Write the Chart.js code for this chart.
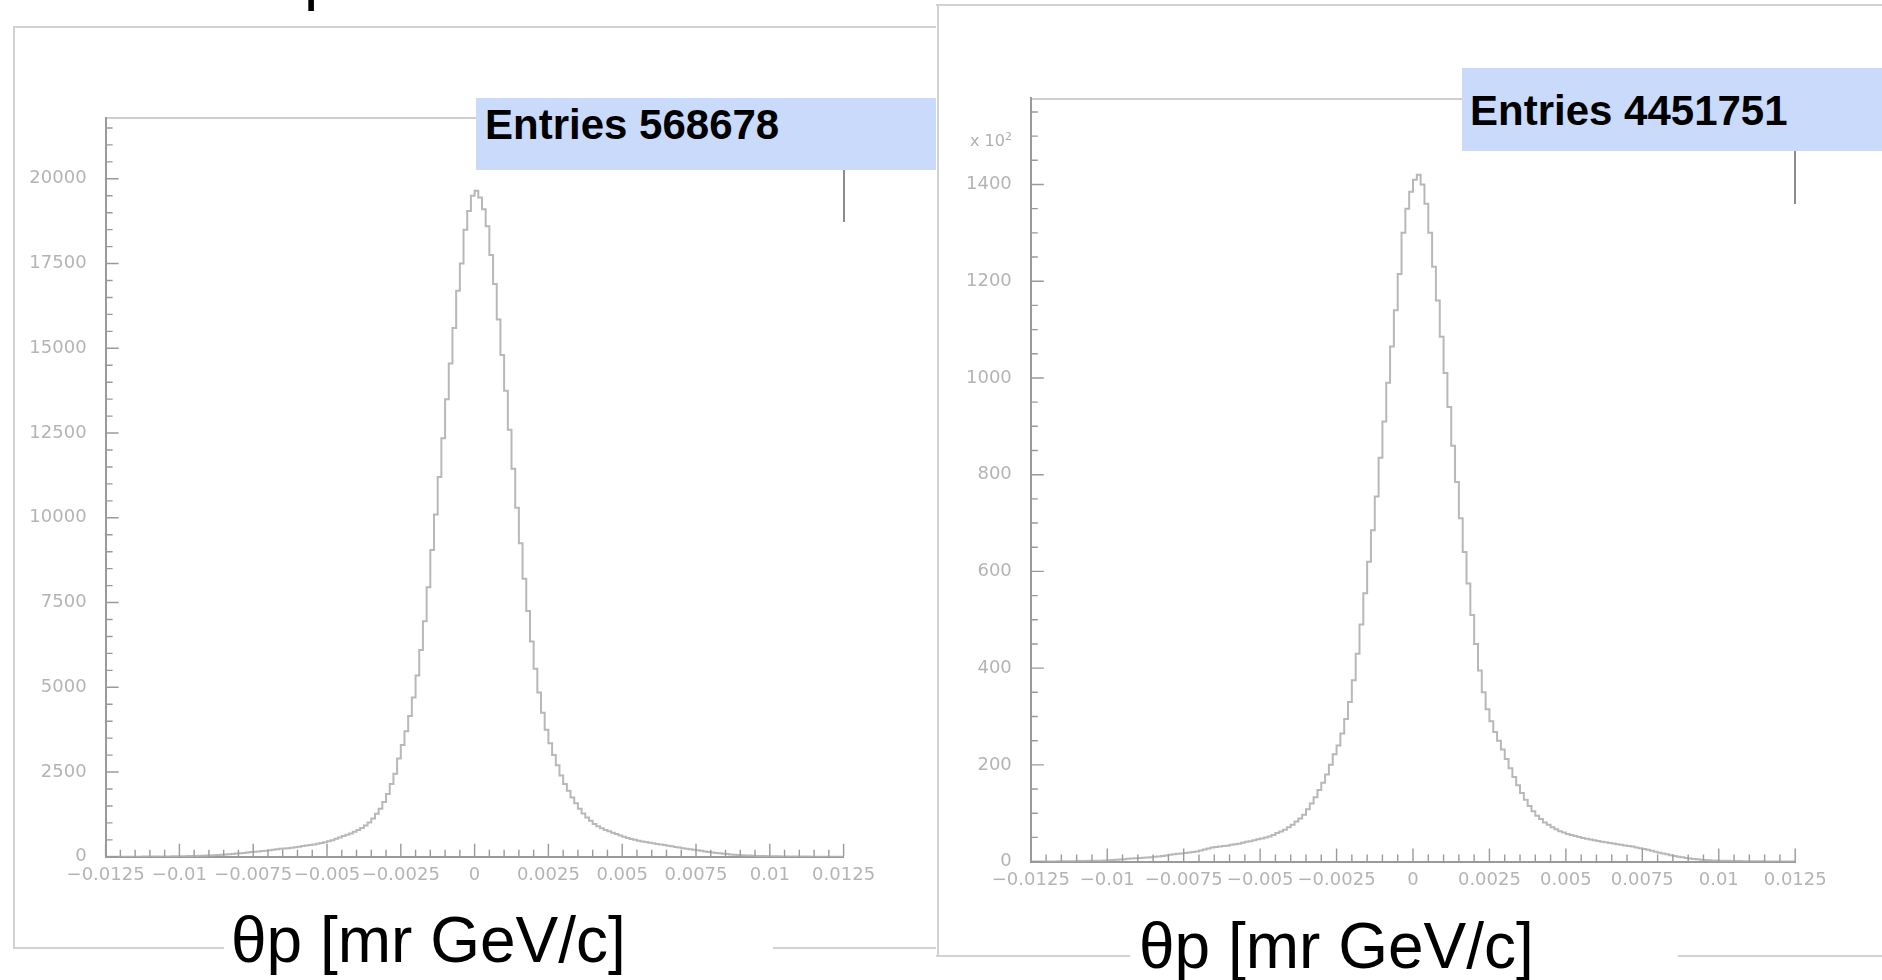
<!DOCTYPE html>
<html>
<head>
<meta charset="utf-8">
<script src="https://cdn.jsdelivr.net/npm/chart.js@4.4.1/dist/chart.umd.min.js"></script>
<style>
  html, body { margin: 0; padding: 0; background: #fff; }
  body { width: 1882px; height: 980px; position: relative; overflow: hidden; font-family: "Liberation Sans", Arial, sans-serif; }
  .ln { position: absolute; background: #d2d2d2; }
  .box { position: absolute; background: #cadafa; }
  .entries { position: absolute; font-weight: bold; font-size: 42px; line-height: 42px; color: #000; white-space: nowrap; }
  .xtitle { position: absolute; font-size: 64px; line-height: 64px; color: #000; white-space: nowrap; }
  canvas { position: absolute; top: 0; }
</style>
</head>
<body>

<!-- panel frames -->
<div class="ln" style="left:13px;top:26px;width:923px;height:1.5px"></div>
<div class="ln" style="left:13px;top:26px;width:1.5px;height:922px"></div>
<div class="ln" style="left:13px;top:947px;width:211px;height:1.5px"></div>
<div class="ln" style="left:773px;top:947px;width:163px;height:1.5px"></div>

<div class="ln" style="left:936px;top:4px;width:946px;height:1.5px"></div>
<div class="ln" style="left:937px;top:4px;width:1.5px;height:952px"></div>
<div class="ln" style="left:936px;top:955px;width:194px;height:1.5px"></div>
<div class="ln" style="left:1678px;top:955px;width:204px;height:1.5px"></div>

<!-- plot frame tops and right stubs -->
<div class="ln" style="left:105px;top:116.5px;width:371px;height:2px;background:#cfcfcf"></div>
<div class="ln" style="left:842.5px;top:170px;width:2px;height:52px;background:#8c8c8c"></div>
<div class="ln" style="left:1030px;top:97.5px;width:432px;height:2px;background:#cfcfcf"></div>
<div class="ln" style="left:1794px;top:151px;width:2px;height:53px;background:#8c8c8c"></div>

<canvas id="left" width="936" height="960" style="left:0"></canvas>
<canvas id="right" width="946" height="980" style="left:936px"></canvas>

<div class="xtitle" style="left:304px;top:-56px;font-size:64px;line-height:64px">p</div>

<div class="box" style="left:476px;top:98px;width:460px;height:72px"></div>
<div class="entries" style="left:485px;top:104px">Entries 568678</div>
<div class="box" style="left:1462px;top:68px;width:420px;height:83px"></div>
<div class="entries" style="left:1470px;top:90px">Entries 4451751</div>

<div style="position:absolute;left:970px;top:130px;font-family:'DejaVu Sans';font-size:16px;color:#b0b0b0">x 10<sup style="font-size:11px">2</sup></div>

<div class="xtitle" style="left:231px;top:908px">θp [mr GeV/c]</div>
<div class="xtitle" style="left:1139px;top:914px">θp [mr GeV/c]</div>

<script>
// histogram binning (200 bins of 0.000125 from -0.0125 to 0.0125)
const xLow = -0.0125;
const xHigh = 0.0125;
const binWidth = 0.000125;

const xTickValues = [-0.0125, -0.01, -0.0075, -0.005, -0.0025, 0, 0.0025, 0.005, 0.0075, 0.01, 0.0125];
const xTickLabels = ["\u22120.0125", "\u22120.01", "\u22120.0075", "\u22120.005", "\u22120.0025", "0",
  "0.0025", "0.005", "0.0075", "0.01", "0.0125"];

const leftYTicks = [0, 2500, 5000, 7500, 10000, 12500, 15000, 17500, 20000];
const leftYLabels = ["0", "2500", "5000", "7500", "10000", "12500", "15000", "17500", "20000"];
const rightYTicks = [0, 200, 400, 600, 800, 1000, 1200, 1400];
const rightYLabels = ["0", "200", "400", "600", "800", "1000", "1200", "1400"];

// left histogram: entries per bin
const leftCounts = [
  2, 2, 2, 3, 3, 3, 4, 4, 5, 5,
  6, 7, 7, 8, 9, 10, 11, 12, 13, 15,
  17, 19, 21, 24, 27, 30, 33, 37, 42, 48,
  55, 61, 68, 76, 85, 95, 105, 115, 127, 138,
  150, 160, 170, 180, 192, 205, 220, 235, 245, 255,
  268, 280, 295, 315, 330, 350, 365, 385, 405, 430,
  460, 490, 530, 570, 610, 650, 690, 740, 790, 850,
  920, 1010, 1130, 1270, 1420, 1620, 1850, 2150, 2450, 2900,
  3300, 3700, 4150, 4700, 5350, 6100, 6950, 7950, 9050, 10100,
  11200, 12350, 13500, 14550, 15600, 16700, 17500, 18500, 19050, 19500,
  19650, 19450, 19100, 18600, 17750, 16900, 15850, 14800, 13750, 12600,
  11450, 10300, 9250, 8200, 7250, 6350, 5550, 4850, 4250, 3750,
  3350, 3000, 2700, 2400, 2150, 1950, 1750, 1580, 1420, 1280,
  1160, 1060, 970, 900, 840, 790, 750, 710, 670, 630,
  590, 555, 525, 500, 475, 455, 435, 415, 398, 380,
  362, 345, 328, 310, 292, 275, 255, 238, 222, 205,
  190, 175, 158, 143, 128, 114, 102, 90, 80, 70,
  61, 53, 46, 40, 35, 31, 27, 24, 21, 19,
  17, 15, 13, 12, 11, 10, 9, 8, 7, 7,
  6, 5, 5, 4, 4, 3, 3, 3, 2, 2
];

// right histogram: entries per bin, in units of 10^2
const rightCounts = [
  0.2, 0.2, 0.2, 0.3, 0.3, 0.4, 0.4, 0.5, 0.5, 0.6,
  0.7, 0.8, 1, 1, 1.2, 1.5, 1.5, 2, 2, 2.5,
  3, 3.5, 4, 4.5, 5, 6, 6.5, 7, 7.5, 8,
  8.5, 9, 10, 10.5, 11.5, 12.5, 14, 15, 16, 17,
  18, 19, 20, 21, 23, 25, 27, 29, 30, 31,
  32, 33, 35, 36, 37, 39, 41, 42, 44, 46,
  48, 50, 52, 55, 59, 62, 66, 71, 76, 83,
  89, 97, 108, 120, 133, 148, 163, 180, 200, 222,
  240, 265, 295, 330, 375, 430, 490, 555, 620, 685,
  755, 835, 910, 990, 1065, 1140, 1215, 1300, 1350, 1385,
  1410, 1420, 1400, 1360, 1300, 1230, 1160, 1085, 1010, 940,
  860, 785, 710, 640, 575, 510, 450, 395, 350, 315,
  290, 268, 250, 232, 212, 193, 175, 158, 142, 128,
  115, 104, 95, 88, 81, 76, 71, 67, 63, 60,
  57, 55, 53, 51, 49, 47, 45.5, 44, 42.5, 41,
  40, 38.5, 37.5, 36, 35, 33.5, 32, 31, 29, 27.5,
  26, 24.5, 22.5, 20.5, 18.5, 16.5, 15, 13, 11.5, 10,
  9, 7.5, 6.5, 5.5, 5, 4, 3.5, 3, 2.5, 2.2,
  2, 1.7, 1.5, 1.3, 1.1, 1, 0.9, 0.8, 0.7, 0.6,
  0.5, 0.5, 0.4, 0.4, 0.3, 0.3, 0.3, 0.2, 0.2, 0.2
];

const labelFont = { family: "DejaVu Sans", size: 18 };
const labelColor = "#b4b4b4";
const axisColor = "#9a9a9a";

// ROOT style ticks pointing into the frame
const innerTicks = {
  id: "innerTicks",
  afterDatasetsDraw(chart, args, o) {
    const { ctx, chartArea: a, scales: { x, y } } = chart;
    ctx.save();
    ctx.strokeStyle = axisColor;
    ctx.lineWidth = 1.4;
    ctx.beginPath();
    const nx = Math.round((x.max - x.min) / o.xMinor);
    for (let i = 0; i <= nx; i++) {
      const px = x.getPixelForValue(x.min + i * o.xMinor);
      const len = i % o.xEvery === 0 ? 13 : 7;
      ctx.moveTo(px, a.bottom);
      ctx.lineTo(px, a.bottom - len);
    }
    const ny = Math.floor(y.max / o.yMinor);
    for (let i = 0; i <= ny; i++) {
      const py = y.getPixelForValue(i * o.yMinor);
      const len = i % o.yEvery === 0 ? 13 : 7;
      ctx.moveTo(a.left, py);
      ctx.lineTo(a.left + len, py);
    }
    ctx.stroke();
    ctx.restore();
  }
};

function drawHist(id, counts, cfg) {
  const pts = counts.map((v, i) => ({ x: xLow + i * binWidth, y: v }));
  pts.push({ x: xHigh, y: counts[counts.length - 1] });

  return new Chart(document.getElementById(id).getContext("2d"), {
    type: "line",
    data: {
      datasets: [{
        data: pts,
        stepped: true,
        borderColor: "#b8b8b8",
        borderWidth: 2,
        pointRadius: 0,
        fill: false
      }]
    },
    options: {
      responsive: false,
      animation: false,
      layout: { padding: cfg.padding },
      plugins: {
        legend: { display: false },
        tooltip: { enabled: false },
        innerTicks: cfg.ticks
      },
      scales: {
        x: {
          type: "linear",
          min: xLow,
          max: xHigh,
          afterBuildTicks: (s) => { s.ticks = xTickValues.map((v) => ({ value: v })); },
          afterFit: (s) => { s.height = 40; },
          ticks: {
            autoSkip: false, minRotation: 0, maxRotation: 0, padding: 8,
            font: labelFont, color: labelColor,
            callback: (v, i) => xTickLabels[i]
          },
          grid: { drawOnChartArea: false, drawTicks: false },
          border: { color: axisColor, width: 2 }
        },
        y: {
          min: 0,
          max: cfg.yMax,
          afterBuildTicks: (s) => { s.ticks = cfg.yTicks.map((v) => ({ value: v })); },
          afterFit: (s) => { s.width = cfg.yWidth; },
          ticks: {
            autoSkip: false, padding: 19,
            font: labelFont, color: labelColor,
            callback: (v, i) => cfg.yLabels[i]
          },
          grid: { drawOnChartArea: false, drawTicks: false },
          border: { color: axisColor, width: 2 }
        }
      }
    },
    plugins: [innerTicks]
  });
}

drawHist("left", leftCounts, {
  padding: { left: 25.6, right: 92.4, top: 117.6, bottom: 63.2 },
  yMax: 21805,
  yWidth: 80,
  yTicks: leftYTicks,
  yLabels: leftYLabels,
  ticks: { xMinor: 0.0005, xEvery: 5, yMinor: 500, yEvery: 5 }
});

drawHist("right", rightCounts, {
  padding: { left: 24.8, right: 86.8, top: 98.4, bottom: 78.4 },
  yMax: 1578,
  yWidth: 70,
  yTicks: rightYTicks,
  yLabels: rightYLabels,
  ticks: { xMinor: 0.0005, xEvery: 5, yMinor: 50, yEvery: 4 }
});
</script>
</body>
</html>
